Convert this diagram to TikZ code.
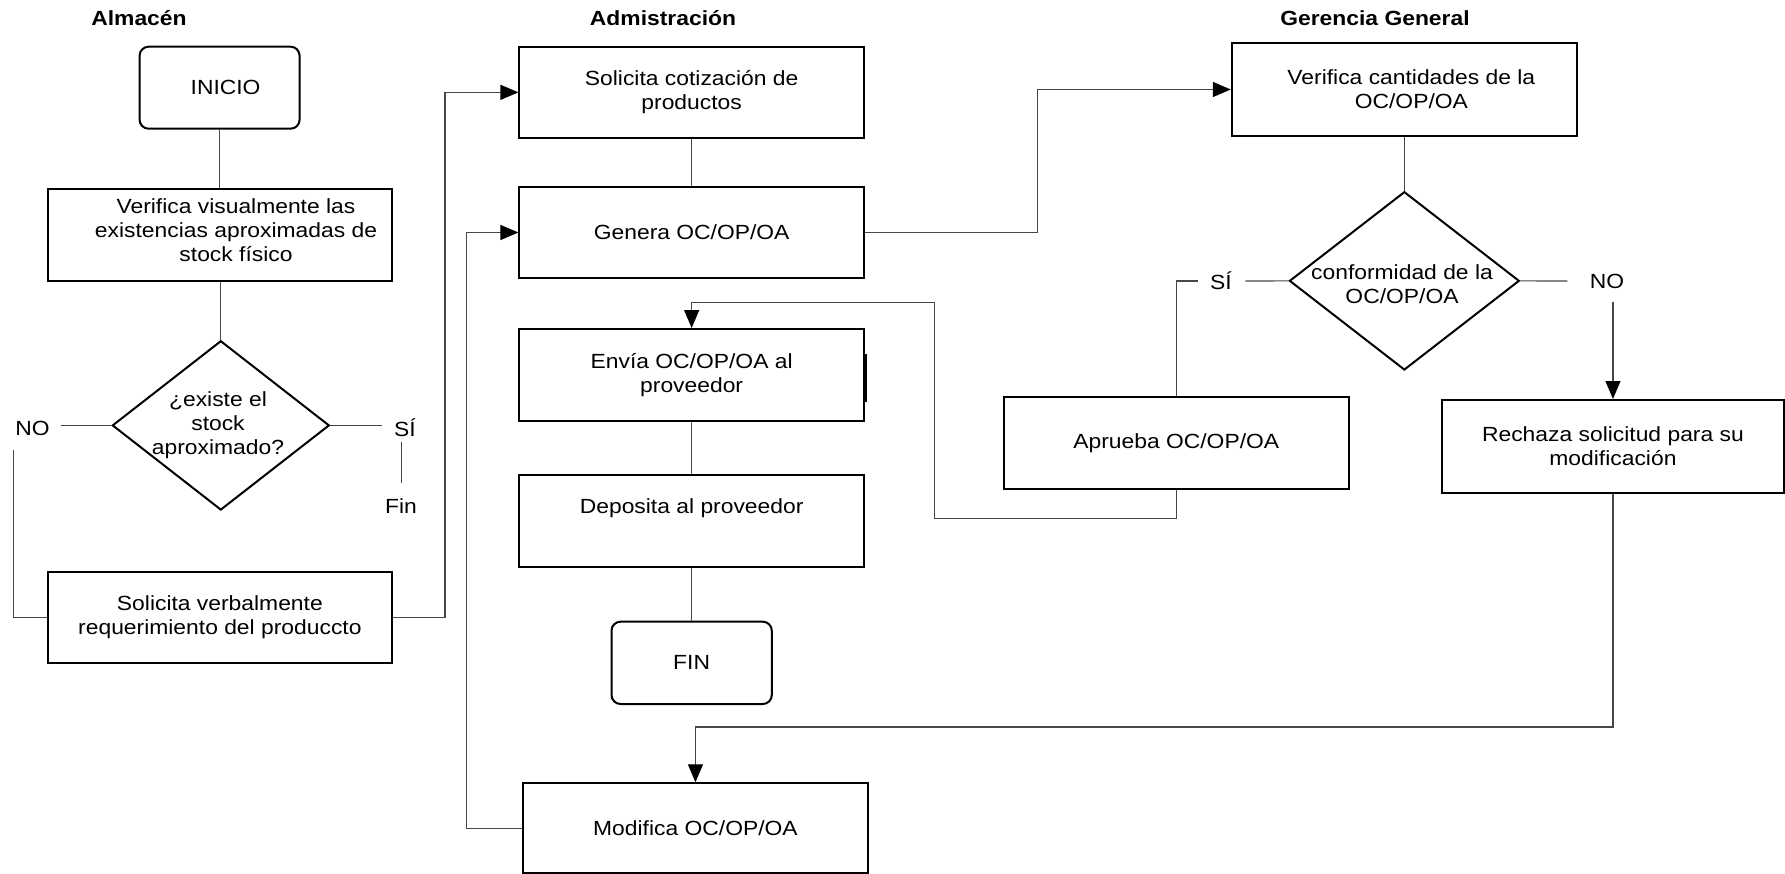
\documentclass[tikz,border=0pt]{standalone}
\usepackage{fontspec}
\setmainfont{Liberation Sans}[FakeStretch=1.115]
\usetikzlibrary{shapes.geometric,arrows.meta}

\begin{document}
\begin{tikzpicture}[x=1pt,y=-1pt,
  every node/.style={font=\fontsize{20.5}{24}\selectfont, inner sep=0pt, align=center},
  box/.style={draw=black, line width=2pt, rectangle, minimum width=344.5pt, minimum height=91.6pt},
  term/.style={draw=black, line width=2pt, rectangle, rounded corners=9pt, minimum width=160pt, minimum height=82pt},
  dia/.style={draw=black, line width=2pt, diamond, inner sep=0pt},
  title/.style={font=\bfseries\fontsize{20.5}{24}\selectfont},
  link/.style={draw=black!72, line width=1.2pt},
  flow/.style={link, -{Triangle[length=18pt,width=15pt,color=black]}},
]
\useasboundingbox (0,0) rectangle (1785,874);

% lane titles
\node[title] (tAlm) at (139,18.3) {Almacén};
\node[title] (tAdm) at (663,18.3) {Admistración};
\node[title] (tGer) at (1375,18.3) {Gerencia General};

% ---- Almacén ----
\node[term] (inicio) at (219.6,87.7) {\hspace*{12pt}INICIO};
\node[box, minimum width=344.8pt, minimum height=92pt] (verif) at (219.9,235) {};
\node (verifT) at (236,230.5) {Verifica visualmente las\\existencias aproximadas de\\stock físico};
\node[dia, minimum width=217pt, minimum height=169.3pt] (d1) at (220.8,425.4) {};
\node (d1T) at (218,424.7) {¿existe el\\stock\\aproximado?};
\node (no1) at (32.5,428) {NO};
\node (si1) at (405,428) {SÍ};
\node (fin1) at (401,506) {Fin};
\node[box, minimum width=344.8pt] (solverb) at (219.9,617.5) {Solicita verbalmente\\requerimiento del produccto};

% ---- Admistración ----
\node[box] (cotiz) at (691.65,92.35) {Solicita cotización de\\productos};
\node[box] (genera) at (691.65,232.5) {Genera OC/OP/OA};
\node[box] (envia) at (691.65,374.85) {Envía OC/OP/OA al\\proveedor};
\node[box] (deposita) at (691.65,520.85) {Deposita al proveedor\\[6pt]};
\node[term, minimum width=160.3pt, minimum height=82.3pt] (fin) at (691.65,662.85) {FIN};
\node[box, minimum height=89.7pt] (modif) at (695.45,828.15) {Modifica OC/OP/OA};

% ---- Gerencia General ----
\node[box, minimum width=345.1pt, minimum height=92.4pt] (vercant) at (1404.35,89.5) {\hspace*{14pt}Verifica cantidades de la\\\hspace*{14pt}OC/OP/OA};
\node[dia, minimum width=229.9pt, minimum height=178.3pt] (d2) at (1404.35,280.85) {};
\node (d2T) at (1402,284.3) {conformidad de la\\OC/OP/OA};
\node (si2) at (1220.8,281) {SÍ};
\node (no2) at (1607,281) {NO};
\node[box, minimum height=92.3pt] (aprueba) at (1176.25,442.85) {Aprueba OC/OP/OA};
\node[box, minimum width=341.5pt, minimum height=92.7pt] (rechaza) at (1612.95,446.35) {Rechaza solicitud para su\\modificación};

% route points
\coordinate (no1r) at (60.5,425.4);
\coordinate (si1l) at (381.5,425.4);
\coordinate (fint) at (401.8,441.7);
\coordinate (finb) at (401.8,483.3);
\coordinate (noD) at (13.8,450);
\coordinate (laneA) at (445,0);
\coordinate (laneB) at (466.5,0);
\coordinate (laneC) at (1037.6,0);
\coordinate (apLow) at (934.3,518.3);
\coordinate (apHigh) at (934.3,302.3);
\coordinate (reA) at (695.45,727);
\coordinate (si2r) at (1245.4,281);
\coordinate (si2l) at (1197.8,281);
\coordinate (si2c) at (1176.25,281);
\coordinate (no2l) at (1567.4,281);
\coordinate (no2d) at (1612.95,301.7);

% connectors
\draw[link] (inicio.south) -- (inicio.south |- verif.north);
\draw[link] (d1.north |- verif.south) -- (d1.north);
\draw[link] (d1.west) -- (no1r);
\draw[link] (d1.east) -- (si1l);
\draw[link] (fint) -- (finb);
\draw[link] (noD) |- (solverb.west);
\draw[flow] (solverb.east) -| (laneA |- cotiz.west) -- (cotiz.west);
\draw[flow] (modif.west) -| (laneB |- genera.west) -- (genera.west);
\draw[link] (cotiz.south) -- (genera.north);
\draw[flow] (genera.east) -| (laneC |- vercant.west) -- (vercant.west);
\draw[link] (envia.south) -- (deposita.north);
\draw[link] (deposita.south) -- (fin.north);
\draw[link] (vercant.south) -- (d2.north);
\draw[link] (d2.west) -- (si2r);
\draw[link] (si2l) -- (si2c) -- (aprueba.north);
\draw[link] (d2.east) -- (no2l);
\draw[flow] (no2d) -- (rechaza.north);
\draw[flow] (aprueba.south) |- (apLow) -- (apHigh) -| (envia.north);
\draw[flow] (rechaza.south) |- (reA) -- (modif.north);

% thickened stretch of the right edge of the Envía box
\draw[line width=2pt] ([xshift=1.5pt]envia.east) ++(0,-21) -- ++(0,47.7);
\end{tikzpicture}
\end{document}
